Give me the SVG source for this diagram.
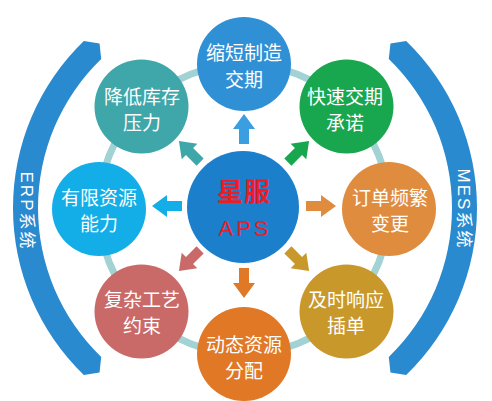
<svg xmlns="http://www.w3.org/2000/svg" width="492" height="401" viewBox="0 0 492 401">
<style>
.band{fill:#2a8ad0}
.bt{font-family:"Liberation Sans","Noto Sans CJK SC",sans-serif;font-size:17px;fill:#ffffff;letter-spacing:2px;text-anchor:middle;dominant-baseline:central}
.ct{font-family:"Noto Sans CJK SC",sans-serif;font-size:19px;fill:#ffffff;text-anchor:middle}
.ring{fill:none;stroke:#a2d2d4;stroke-width:7}
</style>
<defs>
<polygon id="arr" points="0,0 11,15 5,15 5,30 -5,30 -5,15 -11,15"/>
</defs>
<rect width="492" height="401" fill="#ffffff"/>
<g id="erp">
<path class="band" d="M83.84,41.11 L99.55,43.60 L101.21,59.10 A207,207 0 0 0 101.21,356.90 L99.55,372.40 L83.84,374.89 A232,232 0 0 1 83.84,41.11 Z"/>
<text class="bt" transform="translate(26,211) rotate(90)">ERP系统</text>
</g>
<g id="mes">
<path class="band" d="M406.16,41.11 A232,232 0 0 1 406.16,374.89 L390.45,372.40 L388.79,356.90 A207,207 0 0 0 388.79,59.10 L390.45,43.60 Z"/>
<text class="bt" transform="translate(463,209) rotate(90)">MES系统</text>
</g>
<g id="connectors">
<circle class="ring" cx="244" cy="209" r="145"/>
<use href="#arr" fill="#3b9ee0" transform="translate(244,114)"/>
<use href="#arr" fill="#18a64e" transform="translate(309.1,140.9) rotate(45)"/>
<use href="#arr" fill="#e08c3e" transform="translate(336,206) rotate(90)"/>
<use href="#arr" fill="#c9982a" transform="translate(309.1,271.1) rotate(135)"/>
<use href="#arr" fill="#e07826" transform="translate(244,298) rotate(180)"/>
<use href="#arr" fill="#c96a69" transform="translate(178.9,271.1) rotate(225)"/>
<use href="#arr" fill="#13aee8" transform="translate(152,206) rotate(270)"/>
<use href="#arr" fill="#3fa6a9" transform="translate(178.9,140.9) rotate(315)"/>
</g>
<g id="center">
<circle cx="243" cy="207" r="56" fill="#1b7fcc"/>
<text x="244" y="201" font-family="Noto Sans CJK SC, sans-serif" font-size="26" font-weight="700" fill="#ee1c25" text-anchor="middle" letter-spacing="1">星服</text>
<text x="245" y="236" font-family="Liberation Sans, sans-serif" font-size="22" fill="#ee1c25" text-anchor="middle" letter-spacing="3">APS</text>
</g>
<g id="n-top">
<circle cx="244" cy="64" r="47" fill="#3090d6"/>
<text class="ct" x="244" y="60">缩短制造</text>
<text class="ct" x="244" y="87">交期</text>
</g>
<g id="n-topleft">
<circle cx="141.5" cy="106.5" r="47" fill="#3fa6a9"/>
<text class="ct" x="142" y="104">降低库存</text>
<text class="ct" x="142" y="130">压力</text>
</g>
<g id="n-topright">
<circle cx="346.5" cy="106.5" r="47" fill="#18a64e"/>
<text class="ct" x="345" y="104">快速交期</text>
<text class="ct" x="345" y="130">承诺</text>
</g>
<g id="n-left">
<circle cx="99" cy="209" r="47" fill="#13aee8"/>
<text class="ct" x="99" y="205">有限资源</text>
<text class="ct" x="99" y="231">能力</text>
</g>
<g id="n-right">
<circle cx="389" cy="209" r="47" fill="#e08c3e"/>
<text class="ct" x="390" y="205">订单频繁</text>
<text class="ct" x="390" y="231">变更</text>
</g>
<g id="n-bottomleft">
<circle cx="141.5" cy="311.5" r="47" fill="#c96a69"/>
<text class="ct" x="142" y="307">复杂工艺</text>
<text class="ct" x="142" y="333">约束</text>
</g>
<g id="n-bottomright">
<circle cx="346.5" cy="311.5" r="47" fill="#c9982a"/>
<text class="ct" x="346" y="307">及时响应</text>
<text class="ct" x="346" y="333">插单</text>
</g>
<g id="n-bottom">
<circle cx="244" cy="354" r="47" fill="#e07826"/>
<text class="ct" x="244" y="352">动态资源</text>
<text class="ct" x="244" y="378">分配</text>
</g>
</svg>
